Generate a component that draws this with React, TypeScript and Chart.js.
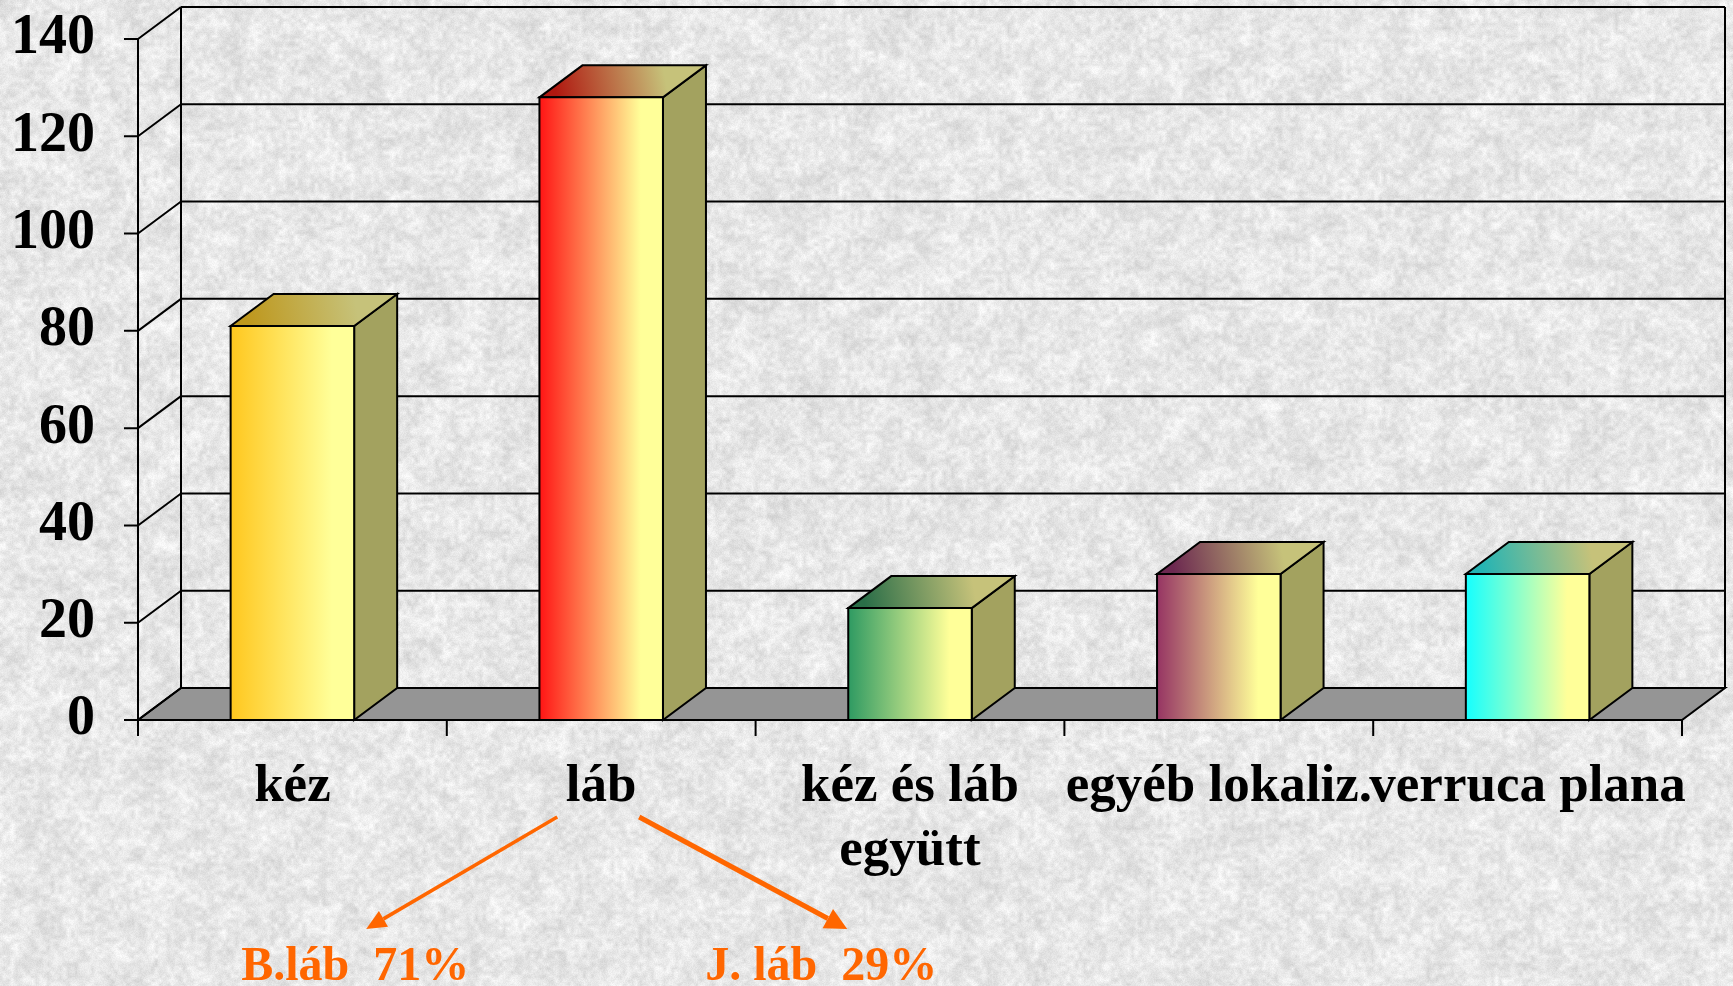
import { useEffect, useRef } from "react";
import { Chart, registerables } from "chart.js";

Chart.register(...registerables);

// ---- data ----
const categories: string[][] = [["kéz"], ["láb"], ["kéz és láb", "együtt"], ["egyéb lokaliz."], ["verruca plana"]];
const values: number[] = [81, 128, 23, 30, 30];
const yMin = 0;
const yMax = 140;
const yStep = 20;
const splitLabels: string[] = ["B.láb  71%", "J. láb  29%"];

// ---- styles ----
const frontStartColors = ["#FFC71E", "#FF1414", "#2E9A62", "#963463", "#14FFFF"];
const topStartColors = ["#BE971C", "#B01810", "#2A6E48", "#6C2850", "#24B4B4"];
const PALE = "#FFFF99";
const TOP_END = "#C6C27A";
const SIDE = "#A3A25F";
const FLOOR = "#959595";
const ORANGE = "#FF6600";
const FONT = "'Liberation Serif', 'Times New Roman', serif";
const DX = 43;
const DY = 32;
const W = 1733;
const H = 986;

function hash(x: number, y: number, s: number): number {
  let h = Math.imul(x, 374761393) ^ Math.imul(y, 668265263) ^ Math.imul(s, 1442695041);
  h = Math.imul(h ^ (h >>> 13), 1274126177);
  h = h ^ (h >>> 16);
  return (h >>> 0) / 4294967295;
}

function valueNoise(x: number, y: number, sc: number, seed: number): number {
  const gx = x / sc, gy = y / sc;
  const x0 = Math.floor(gx), y0 = Math.floor(gy);
  const fx = gx - x0, fy = gy - y0;
  const a = hash(x0, y0, seed), b = hash(x0 + 1, y0, seed);
  const c = hash(x0, y0 + 1, seed), d = hash(x0 + 1, y0 + 1, seed);
  const top = a + (b - a) * fx;
  const bot = c + (d - c) * fx;
  return top + (bot - top) * fy;
}

function makeBackground(): HTMLCanvasElement {
  const c = document.createElement("canvas");
  c.width = W;
  c.height = H;
  const g = c.getContext("2d")!;
  const img = g.createImageData(W, H);
  const d = img.data;
  for (let y = 0; y < H; y++) {
    for (let x = 0; x < W; x++) {
      const n1 = valueNoise(x, y, 14, 1);
      const n2 = valueNoise(x, y, 4, 2);
      const n3 = hash(x, y, 3);
      let v = 231 + (n1 - 0.5) * 18 + (n2 - 0.5) * 26 + (n3 - 0.5) * 12;
      if (v > 252) v = 252;
      const i = (y * W + x) * 4;
      d[i] = v;
      d[i + 1] = v;
      d[i + 2] = v;
      d[i + 3] = 255;
    }
  }
  g.putImageData(img, 0, 0);
  return c;
}

function drawArrow(ctx: CanvasRenderingContext2D, x1: number, y1: number, x2: number, y2: number, lw: number, hl: number, hw: number) {
  const ang = Math.atan2(y2 - y1, x2 - x1);
  const bx = x2 - Math.cos(ang) * hl;
  const by = y2 - Math.sin(ang) * hl;
  ctx.strokeStyle = ORANGE;
  ctx.fillStyle = ORANGE;
  ctx.lineWidth = lw;
  ctx.beginPath();
  ctx.moveTo(x1, y1);
  ctx.lineTo(bx, by);
  ctx.stroke();
  ctx.beginPath();
  ctx.moveTo(x2, y2);
  ctx.lineTo(bx + Math.sin(ang) * hw, by - Math.cos(ang) * hw);
  ctx.lineTo(bx - Math.sin(ang) * hw, by + Math.cos(ang) * hw);
  ctx.closePath();
  ctx.fill();
}

export default function App() {
  const ref = useRef<HTMLCanvasElement | null>(null);

  useEffect(() => {
    document.body.style.margin = "0";
    const canvas = ref.current!;
    const bg = makeBackground();

    const threeD = {
      id: "threeD",
      beforeDraw(chart: any) {
        chart.ctx.drawImage(bg, 0, 0);
      },
      beforeDatasetsDraw(chart: any) {
        const ctx: CanvasRenderingContext2D = chart.ctx;
        const { left, right, top, bottom } = chart.chartArea;
        const ys = chart.scales.y;
        ctx.save();
        ctx.strokeStyle = "#000";
        ctx.lineWidth = 2;
        // floor
        ctx.fillStyle = FLOOR;
        ctx.beginPath();
        ctx.moveTo(left, bottom);
        ctx.lineTo(right, bottom);
        ctx.lineTo(right + DX, bottom - DY);
        ctx.lineTo(left + DX, bottom - DY);
        ctx.closePath();
        ctx.fill();
        ctx.stroke();
        // gridlines on back wall + left wall diagonals + ticks
        for (let v = yMin; v <= yMax; v += yStep) {
          const py = ys.getPixelForValue(v);
          ctx.beginPath();
          ctx.moveTo(left + DX, py - DY);
          ctx.lineTo(right + DX, py - DY);
          ctx.moveTo(left, py);
          ctx.lineTo(left + DX, py - DY);
          ctx.moveTo(left - 14, py);
          ctx.lineTo(left, py);
          ctx.stroke();
        }
        // back wall verticals
        ctx.beginPath();
        ctx.moveTo(left + DX, top - DY);
        ctx.lineTo(left + DX, bottom - DY);
        ctx.moveTo(right + DX, top - DY);
        ctx.lineTo(right + DX, bottom - DY);
        // front-left axis
        ctx.moveTo(left, top);
        ctx.lineTo(left, bottom);
        ctx.stroke();
        // category tick marks
        const n = categories.length;
        ctx.beginPath();
        for (let i = 0; i <= n; i++) {
          const px = left + ((right - left) * i) / n;
          ctx.moveTo(px, bottom);
          ctx.lineTo(px, bottom + 16);
        }
        ctx.stroke();
        ctx.restore();
      },
      afterDatasetsDraw(chart: any) {
        const ctx: CanvasRenderingContext2D = chart.ctx;
        const meta = chart.getDatasetMeta(0);
        ctx.save();
        ctx.strokeStyle = "#000";
        ctx.lineWidth = 2;
        ctx.lineJoin = "miter";
        meta.data.forEach((bar: any, i: number) => {
          const xl = bar.x - bar.width / 2;
          const xr = bar.x + bar.width / 2;
          const yt = bar.y;
          const yb = bar.base;
          // side
          ctx.fillStyle = SIDE;
          ctx.beginPath();
          ctx.moveTo(xr, yt);
          ctx.lineTo(xr + DX, yt - DY);
          ctx.lineTo(xr + DX, yb - DY);
          ctx.lineTo(xr, yb);
          ctx.closePath();
          ctx.fill();
          ctx.stroke();
          // top
          const tg = ctx.createLinearGradient(xl, yt, xr + DX, yt - DY);
          tg.addColorStop(0.1, topStartColors[i]);
          tg.addColorStop(0.75, TOP_END);
          tg.addColorStop(1, TOP_END);
          ctx.fillStyle = tg;
          ctx.beginPath();
          ctx.moveTo(xl, yt);
          ctx.lineTo(xr, yt);
          ctx.lineTo(xr + DX, yt - DY);
          ctx.lineTo(xl + DX, yt - DY);
          ctx.closePath();
          ctx.fill();
          ctx.stroke();
          // front
          const fg = ctx.createLinearGradient(xl, 0, xr, 0);
          fg.addColorStop(0, frontStartColors[i]);
          fg.addColorStop(0.82, PALE);
          fg.addColorStop(1, PALE);
          ctx.fillStyle = fg;
          ctx.beginPath();
          ctx.rect(xl, yt, xr - xl, yb - yt);
          ctx.fill();
          ctx.stroke();
        });
        ctx.restore();
      },
      afterDraw(chart: any) {
        const ctx: CanvasRenderingContext2D = chart.ctx;
        const bottom = chart.chartArea.bottom;
        const cx = chart.scales.x.getPixelForValue(1);
        ctx.save();
        drawArrow(ctx, cx - 44, bottom + 97, cx - 235, bottom + 209, 3.5, 20, 9);
        drawArrow(ctx, cx + 38, bottom + 97, cx + 246, bottom + 209, 5, 22, 11);
        ctx.fillStyle = ORANGE;
        ctx.font = `bold 48px ${FONT}`;
        ctx.textAlign = "left";
        ctx.textBaseline = "alphabetic";
        ctx.fillText(splitLabels[0], cx - 360, bottom + 260);
        ctx.fillText(splitLabels[1], cx + 104, bottom + 260);
        ctx.restore();
      },
    };

    const chart = new Chart(canvas, {
      type: "bar",
      data: {
        labels: categories,
        datasets: [
          {
            data: values,
            backgroundColor: "rgba(0,0,0,0)",
            borderWidth: 0,
            barPercentage: 0.4,
            categoryPercentage: 1,
          },
        ],
      },
      options: {
        responsive: false,
        animation: false,
        devicePixelRatio: 1,
        layout: { padding: { top: 39, right: 51, left: 0, bottom: 0 } },
        plugins: { legend: { display: false }, tooltip: { enabled: false } },
        scales: {
          x: {
            grid: { display: false },
            border: { display: false },
            ticks: {
              autoSkip: false,
              maxRotation: 0,
              minRotation: 0,
              padding: 28,
              color: "#000",
              font: { family: FONT, size: 53, weight: "bold", lineHeight: 1.2 },
            },
            afterFit: (s: any) => {
              s.height = 266;
              s.paddingLeft = 0;
              s.paddingRight = 0;
            },
          },
          y: {
            min: yMin,
            max: yMax,
            grid: { display: false },
            border: { display: false },
            ticks: {
              stepSize: yStep,
              padding: 35,
              color: "#000",
              font: { family: FONT, size: 56, weight: "bold" },
            },
            afterFit: (s: any) => {
              s.width = 138;
              s.paddingTop = 0;
              s.paddingBottom = 0;
            },
          },
        },
      },
      plugins: [threeD],
    });
    return () => chart.destroy();
  }, []);

  return <canvas ref={ref} width={W} height={H} style={{ display: "block", width: W, height: H }} />;
}
